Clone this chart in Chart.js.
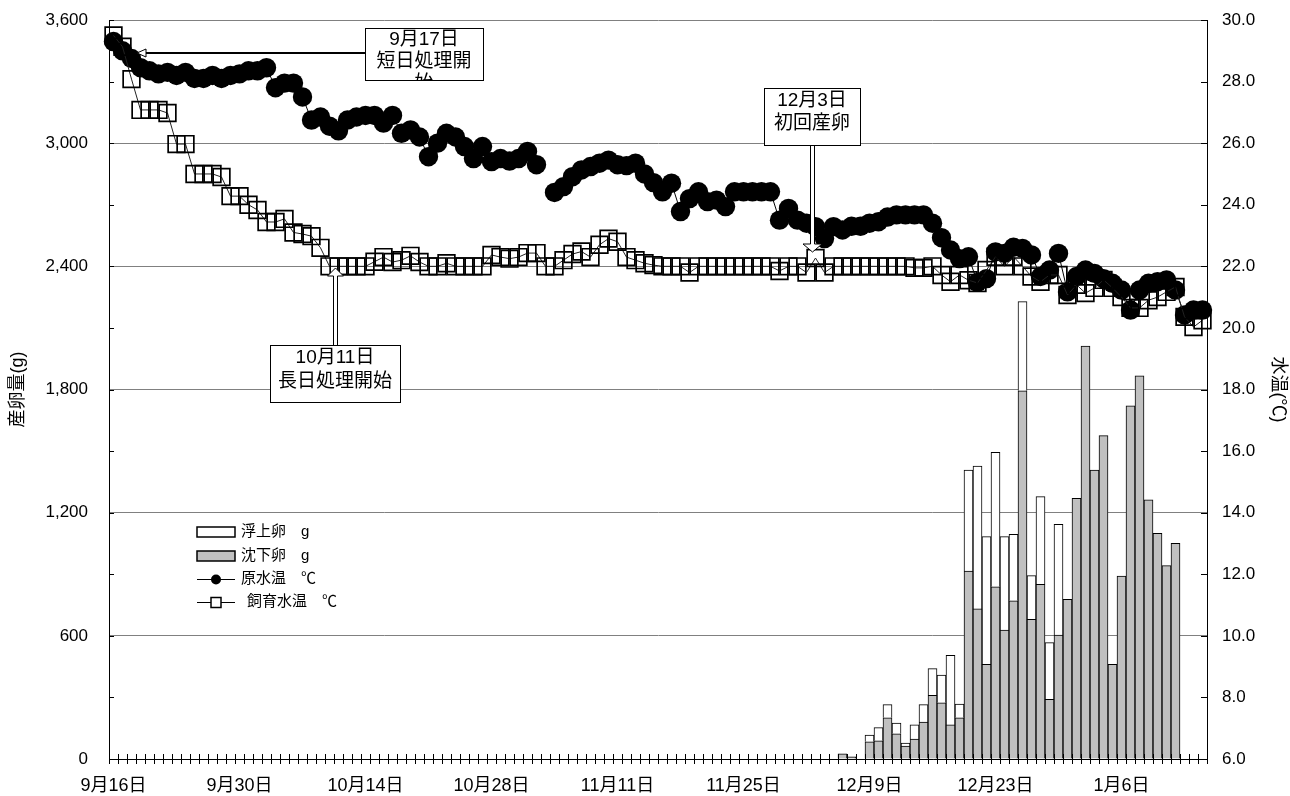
<!DOCTYPE html>
<html lang="ja">
<head>
<meta charset="utf-8">
<title>産卵量と水温の推移</title>
<script src="https://cdn.jsdelivr.net/npm/chart.js@4.4.1/dist/chart.umd.min.js"></script>
<style>
  html, body { margin: 0; padding: 0; background: #fff; }
  #wrap { position: relative; width: 1290px; height: 796px; }
  canvas { display: block; }
</style>
</head>
<body>
<div id="wrap"><canvas id="c" width="1290" height="796"></canvas></div>
<script>
// ---- 日付 (9月16日〜1月15日, 1日刻み) ----
const monthOrder = [9, 10, 11, 12, 1];
const monthDays = [30, 31, 30, 31, 31];
const firstDay = 16;
const dayCount = 122;
const dates = [];
(function () {
  let m = 0, d = firstDay;
  while (dates.length < dayCount) {
    dates.push(monthOrder[m] + '月' + d + '日');
    d++;
    if (d > monthDays[m]) { m++; d = 1; }
  }
})();

// ---- 原水温 (℃) ----
const rawTemp = [
  29.3, 29.0, 28.75, 28.45, 28.35, 28.25, 28.3, 28.2, 28.3, 28.1,
  28.1, 28.2, 28.1, 28.2, 28.25, 28.35, 28.35, 28.45, 27.8, 27.95,
  27.95, 27.5, 26.75, 26.85, 26.55, 26.4, 26.75, 26.85, 26.9, 26.9,
  26.65, 26.9, 26.32, 26.43, 26.2, 25.56, 26.0, 26.32, 26.2, 25.89,
  25.5, 25.89, 25.4, 25.5, 25.42, 25.5, 25.73, 25.3, null, 24.4,
  24.59, 24.91, 25.13, 25.24, 25.35, 25.45, 25.3, 25.27, 25.35, 25.0,
  24.72, 24.42, 24.7, 23.78, 24.2, 24.42, 24.1, 24.15, 23.94, 24.42,
  24.42, 24.42, 24.42, 24.42, 23.5, 23.88, 23.5, 23.4, 23.29, 22.9,
  23.29, 23.18, 23.3, 23.3, 23.4, 23.45, 23.6, 23.67, 23.67, 23.67,
  23.67, 23.4, 22.93, 22.53, 22.25, 22.31, 21.48, 21.6, 22.47, 22.42,
  22.62, 22.58, 22.37, 21.67, 21.88, 22.42, 21.17, 21.67, 21.88, 21.77,
  21.6, 21.45, 21.23, 20.58, 21.23, 21.45, 21.5, 21.56, 21.23, 20.42,
  20.58, 20.58
];

// ---- 飼育水温 (℃) ----
const tankTemp = [
  29.5, 29.13, 28.08, 27.08, 27.08, 27.08, 26.98, 25.97, 25.97, 25.0,
  25.0, 25.0, 24.9, 24.28, 24.28, 24.0, 23.83, 23.44, 23.44, 23.54,
  23.1, 23.05, 22.98, 22.6, 22.0, 22.0, 22.0, 22.0, 22.0, 22.15,
  22.3, 22.14, 22.2, 22.34, 22.14, 22.0, 22.0, 22.1, 22.0, 22.0,
  22.0, 22.0, 22.37, 22.3, 22.25, 22.3, 22.43, 22.43, 22.0, 22.0,
  22.2, 22.4, 22.48, 22.3, 22.7, 22.9, 22.8, 22.3, 22.2, 22.1,
  22.04, 22.0, 22.0, 22.0, 21.8, 22.0, 22.0, 22.0, 22.0, 22.0,
  22.0, 22.0, 22.0, 22.0, 21.85, 22.0, 22.0, 21.8, 22.27, 21.8,
  22.0, 22.0, 22.0, 22.0, 22.0, 22.0, 22.0, 22.0, 22.0, 21.95,
  21.95, 22.0, 21.72, 21.5, 21.72, 21.55, 21.46, 21.88, 22.31, 22.0,
  22.31, 22.0, 21.67, 21.5, 21.72, 21.72, 21.07, 21.4, 21.13, 21.3,
  21.56, 21.3, 21.0, 20.65, 20.65, 20.9, 21.0, 21.17, 21.33, 20.36,
  20.03, 20.25
];

// ---- 産卵量 (g): 12月6日〜1月12日 ----
const eggFirstDate = '12月6日';
const sinkEggs = [
  25, 10, null, 84, 89, 201, 123, 63, 97, 180,
  310, 274, 166, 201, 916, 731, 461, 839, 628, 771,
  1794, 680, 851, 291, 604, 778, 1270, 2012, 1408, 1575,
  461, 891, 1720, 1866, 1262, 1099, 942, 1051
];
const floatEggs = [
  null, null, null, 33, 64, 64, 52, 15, 69, 85,
  130, 135, 339, 67, 492, 696, 622, 655, 455, 323,
  434, 213, 427, 276, 539, null, null, null, null, null,
  null, null, null, null, null, null, null, null
];

// ---- 目盛 ----
const eggTicks = [0, 600, 1200, 1800, 2400, 3000, 3600];
const tempTicks = [6, 8, 10, 12, 14, 16, 18, 20, 22, 24, 26, 28, 30];
const dateLabelEvery = 14;

// 産卵量を日付の並びに揃える
function alignToDates(values) {
  const start = dates.indexOf(eggFirstDate);
  return dates.map((_, i) => {
    const k = i - start;
    return (k >= 0 && k < values.length) ? values[k] : null;
  });
}

const FONT = '"Liberation Sans", "Noto Sans CJK JP", sans-serif';

function blockArrow(ctx, x1, y1, x2, y2, shaft, head, headLen) {
  const dx = x2 - x1, dy = y2 - y1, L = Math.hypot(dx, dy);
  const ux = dx / L, uy = dy / L, nx = -uy, ny = ux;
  const bx = x2 - ux * headLen, by = y2 - uy * headLen;
  const pts = [
    [x1 + nx * shaft / 2, y1 + ny * shaft / 2],
    [bx + nx * shaft / 2, by + ny * shaft / 2],
    [bx + nx * head / 2, by + ny * head / 2],
    [x2, y2],
    [bx - nx * head / 2, by - ny * head / 2],
    [bx - nx * shaft / 2, by - ny * shaft / 2],
    [x1 - nx * shaft / 2, y1 - ny * shaft / 2]
  ];
  ctx.beginPath();
  pts.forEach((p, i) => i ? ctx.lineTo(p[0], p[1]) : ctx.moveTo(p[0], p[1]));
  ctx.closePath();
  ctx.fillStyle = '#fff';
  ctx.fill();
  ctx.strokeStyle = '#000';
  ctx.lineWidth = 1;
  ctx.stroke();
}

function thinArrow(ctx, x1, y, x2, head, headLen) {
  ctx.strokeStyle = '#000';
  ctx.lineWidth = 2;
  ctx.beginPath();
  ctx.moveTo(x1, y);
  ctx.lineTo(x2 + headLen, y);
  ctx.stroke();
  ctx.beginPath();
  ctx.moveTo(x2, y);
  ctx.lineTo(x2 + headLen, y - head / 2);
  ctx.lineTo(x2 + headLen, y + head / 2);
  ctx.closePath();
  ctx.fillStyle = '#fff';
  ctx.fill();
  ctx.lineWidth = 1;
  ctx.stroke();
}

function noteBox(ctx, x, y, w, h, lines, size, lineGap, firstY) {
  ctx.save();
  ctx.fillStyle = '#fff';
  ctx.fillRect(x, y, w, h);
  ctx.beginPath();
  ctx.rect(x, y, w, h);
  ctx.clip();
  ctx.fillStyle = '#000';
  ctx.font = size + 'px ' + FONT;
  ctx.textAlign = 'center';
  ctx.textBaseline = 'middle';
  lines.forEach((t, i) => ctx.fillText(t, x + w / 2, firstY + i * lineGap));
  ctx.restore();
  ctx.strokeStyle = '#000';
  ctx.lineWidth = 1;
  ctx.strokeRect(x + 0.5, y + 0.5, w, h);
}

// 目盛線・凡例・注記
const overlay = {
  id: 'overlay',
  afterDraw(chart) {
    const { ctx, chartArea: a, scales } = chart;
    ctx.save();
    ctx.strokeStyle = '#000';
    ctx.lineWidth = 1;

    // 日付の目盛 (軸をまたぐ短い線)
    const n = dates.length;
    const step = (a.right - a.left) / n;
    ctx.beginPath();
    for (let k = 0; k <= n; k++) {
      const px = Math.round(a.left + k * step) + 0.5;
      ctx.moveTo(px, a.bottom - 5);
      ctx.lineTo(px, a.bottom + 5);
    }
    ctx.stroke();

    // 左軸・右軸の内向き目盛
    ctx.beginPath();
    for (let v = eggTicks[0]; v <= eggTicks[eggTicks.length - 1]; v += 300) {
      const py = Math.round(scales.y.getPixelForValue(v)) + 0.5;
      ctx.moveTo(a.left, py);
      ctx.lineTo(a.left + 5, py);
    }
    tempTicks.forEach(t => {
      const py = Math.round(scales.y2.getPixelForValue(t)) + 0.5;
      ctx.moveTo(a.right - 6, py);
      ctx.lineTo(a.right, py);
    });
    ctx.stroke();

    // 凡例
    const lx0 = 197, lx1 = 235, tx = 241;
    const rows = [532, 556, 579, 602];
    ctx.font = '15px ' + FONT;
    ctx.textBaseline = 'middle';
    ctx.textAlign = 'left';
    ctx.lineWidth = 1.5;
    ctx.fillStyle = '#fff';
    ctx.fillRect(lx0, rows[0] - 5, lx1 - lx0, 10);
    ctx.strokeRect(lx0, rows[0] - 5, lx1 - lx0, 10);
    ctx.fillStyle = '#c0c0c0';
    ctx.fillRect(lx0, rows[1] - 5, lx1 - lx0, 10);
    ctx.strokeRect(lx0, rows[1] - 5, lx1 - lx0, 10);
    ctx.lineWidth = 1;
    ctx.beginPath();
    ctx.moveTo(lx0, rows[2] + 0.5); ctx.lineTo(lx1, rows[2] + 0.5);
    ctx.moveTo(lx0, rows[3] + 0.5); ctx.lineTo(lx1, rows[3] + 0.5);
    ctx.stroke();
    ctx.fillStyle = '#000';
    ctx.beginPath();
    ctx.arc((lx0 + lx1) / 2, rows[2] + 0.5, 5, 0, Math.PI * 2);
    ctx.fill();
    ctx.lineWidth = 1.5;
    ctx.fillStyle = '#fff';
    ctx.fillRect((lx0 + lx1) / 2 - 5, rows[3] - 4.5, 10, 10);
    ctx.strokeRect((lx0 + lx1) / 2 - 5, rows[3] - 4.5, 10, 10);
    ctx.fillStyle = '#000';
    ctx.fillText('浮上卵　g', tx, rows[0]);
    ctx.fillText('沈下卵　g', tx, rows[1]);
    ctx.fillText('原水温　℃', tx, rows[2]);
    ctx.fillText('飼育水温　℃', tx + 6, rows[3]);

    // 注記: 9月17日 短日処理開始
    thinArrow(ctx, 366, 53, 137, 8, 9);
    noteBox(ctx, 365, 28, 118, 52, ['9月17日', '短日処理開', '始'], 19, 22, 40);

    // 注記: 12月3日 初回産卵
    blockArrow(ctx, 812.5, 144, 812.5, 252, 4, 19, 8);
    noteBox(ctx, 764, 88, 96, 57, ['12月3日', '初回産卵'], 19, 23, 101);

    // 注記: 10月11日 長日処理開始
    blockArrow(ctx, 335.5, 346, 335.5, 268, 4, 16, 8);
    noteBox(ctx, 270, 345, 130, 57, ['10月11日', '長日処理開始'], 19, 24, 358);

    ctx.restore();
  }
};

new Chart(document.getElementById('c'), {
  data: {
    labels: dates,
    datasets: [
      {
        type: 'line',
        label: '飼育水温 ℃',
        data: tankTemp,
        yAxisID: 'y2',
        order: 0,
        borderColor: '#222',
        borderWidth: 1,
        pointStyle: 'rect',
        pointRadius: 11.8,
        pointBorderWidth: 1.7,
        pointBorderColor: '#000',
        pointBackgroundColor: 'rgba(0,0,0,0)',
        tension: 0
      },
      {
        type: 'line',
        label: '原水温 ℃',
        data: rawTemp,
        yAxisID: 'y2',
        order: 1,
        borderColor: '#000',
        borderWidth: 1,
        pointStyle: 'circle',
        pointRadius: 9.7,
        pointBorderWidth: 0,
        pointBackgroundColor: '#000',
        spanGaps: false,
        tension: 0
      },
      {
        type: 'bar',
        label: '沈下卵 g',
        data: alignToDates(sinkEggs),
        yAxisID: 'y',
        order: 2,
        stack: 'eggs',
        backgroundColor: '#c0c0c0',
        borderColor: '#000',
        borderWidth: 1,
        barPercentage: 1,
        categoryPercentage: 1
      },
      {
        type: 'bar',
        label: '浮上卵 g',
        data: alignToDates(floatEggs),
        yAxisID: 'y',
        order: 3,
        stack: 'eggs',
        backgroundColor: '#ffffff',
        borderColor: '#000',
        borderWidth: 1,
        barPercentage: 1,
        categoryPercentage: 1
      }
    ]
  },
  options: {
    responsive: false,
    animation: false,
    events: [],
    layout: { padding: { top: 20, left: 0, right: 0, bottom: 0 } },
    plugins: { legend: { display: false }, tooltip: { enabled: false } },
    scales: {
      x: {
        type: 'category',
        stacked: true,
        offset: true,
        afterFit(s) { s.height = 37; },
        grid: { display: false, offset: true },
        border: { display: true, color: '#000', width: 1 },
        ticks: {
          autoSkip: false,
          maxRotation: 0,
          minRotation: 0,
          padding: 8,
          color: '#000',
          font: { family: FONT, size: 18 },
          callback(v, i) { return i % dateLabelEvery === 0 ? dates[i] : ''; }
        }
      },
      y: {
        position: 'left',
        stacked: true,
        min: eggTicks[0],
        max: eggTicks[eggTicks.length - 1],
        afterFit(s) { s.width = 109; },
        afterBuildTicks(s) { s.ticks = eggTicks.map(v => ({ value: v })); },
        grid: { color: '#808080', lineWidth: 1, drawTicks: true, tickLength: 21, tickColor: 'rgba(0,0,0,0)' },
        border: { display: true, color: '#000', width: 1 },
        ticks: {
          padding: 0,
          color: '#000',
          font: { family: FONT, size: 17 },
          callback(v) { return v.toLocaleString('en-US'); }
        },
        title: {
          display: true,
          text: '産卵量(g)',
          color: '#000',
          font: { family: FONT, size: 18 },
          padding: { top: 7, bottom: 0 }
        }
      },
      y2: {
        position: 'right',
        min: tempTicks[0],
        max: tempTicks[tempTicks.length - 1],
        afterFit(s) { s.width = 83; },
        afterBuildTicks(s) { s.ticks = tempTicks.map(v => ({ value: v })); },
        grid: { drawOnChartArea: false, drawTicks: true, tickLength: 15, tickColor: 'rgba(0,0,0,0)' },
        border: { display: true, color: '#000', width: 1 },
        ticks: {
          padding: 0,
          color: '#000',
          font: { family: FONT, size: 17 },
          callback(v) { return Number(v).toFixed(1); }
        },
        title: {
          display: true,
          text: '水温(℃)',
          color: '#000',
          font: { family: FONT, size: 18 },
          padding: { top: 1, bottom: 0 }
        }
      }
    }
  },
  plugins: [overlay]
});
</script>
</body>
</html>
